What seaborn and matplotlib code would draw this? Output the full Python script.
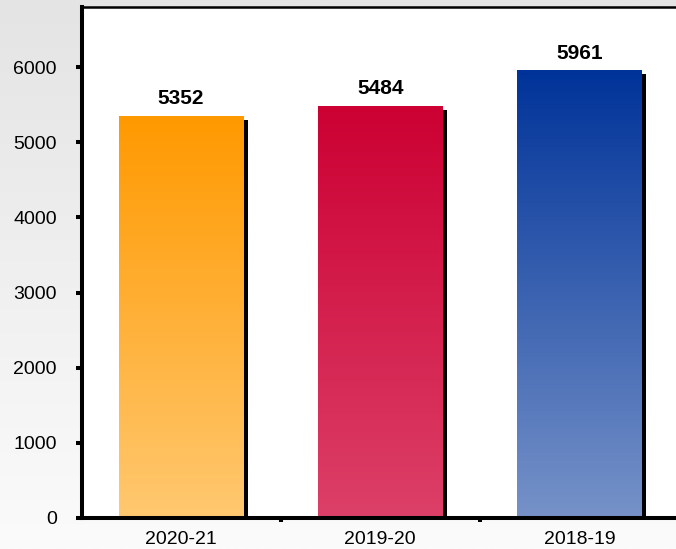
import numpy as np
import pandas as pd
import matplotlib
matplotlib.use('Agg')
import matplotlib.pyplot as plt
import seaborn as sns
from matplotlib import patheffects as pe
from matplotlib.colors import LinearSegmentedColormap

# ---- data ----
years = ['2020-21', '2019-20', '2018-19']
counts = [5352, 5484, 5961]
yticks = [0, 1000, 2000, 3000, 4000, 5000, 6000]
top_colors = ['#FF9900', '#CC0033', '#003399']
bottom_colors = ['#FFC870', '#DC4068', '#7692C8']

sns.set_theme(style='white')
plt.rcParams['font.family'] = ['Liberation Sans', 'DejaVu Sans']

fig = plt.figure(figsize=(6.76, 5.49), dpi=100)

# background gradient
bg = fig.add_axes([0, 0, 1, 1], zorder=-10)
grad = np.linspace(0, 1, 256).reshape(-1, 1)
bg.imshow(grad, aspect='auto',
          cmap=LinearSegmentedColormap.from_list('bg', ['#E4E4E4', '#FBFBFB']),
          extent=[0, 1, 0, 1], origin='upper')
bg.set_axis_off()

ax = fig.add_axes([81.5 / 676, 31 / 549, (679 - 81.5) / 676, 511 / 549])
ax.set_facecolor('white')

df = pd.DataFrame({'year': years, 'count': counts})
sns.barplot(data=df, x='year', y='count', hue='year', palette=top_colors,
            width=0.627, ax=ax, legend=False, saturation=1, linewidth=0)

patches = sorted(ax.patches, key=lambda p: p.get_x())
for p, c0, c1, v in zip(patches, top_colors, bottom_colors, counts):
    x0, y0 = p.get_x(), p.get_y()
    w, h = p.get_width(), p.get_height()
    cmap = LinearSegmentedColormap.from_list('g', [c0, c1])
    im = ax.imshow(grad, aspect='auto', cmap=cmap,
                   extent=[x0, x0 + w, y0, y0 + h], origin='upper',
                   zorder=p.get_zorder() + 0.1)
    im.set_clip_path(p)
    p.set_path_effects([pe.SimplePatchShadow(offset=(2.9, -2.9),
                                             shadow_rgbFace='black', alpha=1.0),
                        pe.Normal()])
    ax.annotate(f'{v}', (x0 + w / 2, y0 + h), xytext=(0, 5.4),
                textcoords='offset points', ha='center', va='bottom',
                fontsize=15, fontweight='bold', color='black', zorder=5)

ax.set_xlim(-0.5, 2.5)
ax.set_ylim(0, 6800)
ax.set_aspect('auto')
ax.set_yticks(yticks)
ax.set_yticklabels([str(t) for t in yticks])
ax.set_xticks([0, 1, 2])
ax.set_xticklabels(years)
ax.set_xticks([0.5, 1.5], minor=True)
ax.set_xlabel('')
ax.set_ylabel('')

ax.tick_params(axis='y', which='major', direction='out', left=True, length=4.3,
               width=2.9, pad=13.5, labelsize=14, color='black', labelcolor='black')
ax.tick_params(axis='x', which='major', length=0, pad=9.5, labelsize=14,
               labelcolor='black')
ax.tick_params(axis='x', which='minor', direction='out', bottom=True, length=3,
               width=2.9, color='black')

for side in ['left', 'bottom']:
    ax.spines[side].set_color('black')
    ax.spines[side].set_linewidth(2.9)
ax.spines['top'].set_color('black')
ax.spines['top'].set_linewidth(1.8)
ax.spines['right'].set_visible(False)

fig.savefig('out.png', dpi=100)
